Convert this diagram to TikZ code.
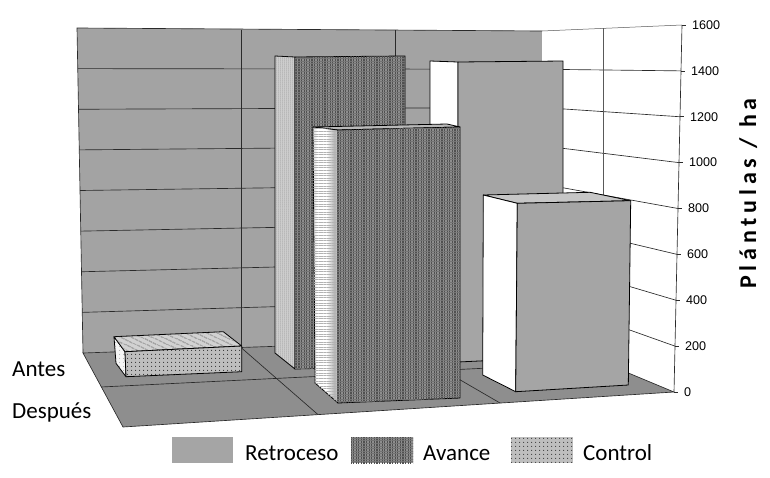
\documentclass[tikz,border=0pt]{standalone}
\usepackage{fontspec}
\setmainfont{Carlito}
\newfontfamily\tickfont{Liberation Sans}
\newfontfamily\titlefont[LetterSpace=20]{Carlito}
\usetikzlibrary{patterns.meta,calc}
\definecolor{wallc}{HTML}{A3A3A3}
\definecolor{floorc}{HTML}{8E8E8E}
\definecolor{retroc}{HTML}{A5A5A5}
\definecolor{retrotop}{HTML}{C6C6C6}
\definecolor{gridc}{HTML}{2A2A2A}
\definecolor{avfill}{HTML}{8E8E8E}
\definecolor{avline}{HTML}{505050}
\definecolor{ctfill}{HTML}{BEBEBE}
\pgfdeclarehorizontalshading{avstripes}{100bp}{color(0bp)=(white); color(18bp)=(gray!55); color(33bp)=(white); color(52bp)=(white); color(68bp)=(gray!60); color(84bp)=(white); color(100bp)=(gray!50)}
\tikzset{
  gridline/.style={draw=gridc, line width=0.65pt},
  lightline/.style={draw=gray!70!black, line width=0.5pt},
  barline/.style={draw=black, line width=0.8pt, line join=round},
  avfront/.style={barline, fill=avfill,
     postaction={pattern={Lines[angle=90,distance=2.6pt,line width=1.1pt]}, pattern color=avline},
     postaction={pattern={Lines[angle=0,distance=2.6pt,line width=0.6pt]}, pattern color=avline!80}},
  avleftA/.style={barline, fill=gray!30,
     postaction={pattern={Dots[distance=2pt,radius=0.5pt]}, pattern color=gray!60!black}},
  avleftD/.style={barline, shading=avstripes,
     postaction={pattern={Lines[angle=0,distance=2.6pt,line width=0.5pt]}, pattern color=gray!60}},
  avtop/.style={barline, fill=gray!55},
  ctfront/.style={barline, fill=ctfill,
     postaction={pattern={Dots[distance=4pt,radius=0.65pt]}, pattern color=black!80}},
  ctleft/.style={barline, fill=gray!8,
     postaction={pattern={Dots[distance=4pt,radius=0.45pt]}, pattern color=black!60}},
  cttop/.style={barline, fill=gray!35,
     postaction={pattern={Lines[angle=-25,distance=4pt,line width=0.7pt]}, pattern color=gray!70!black}},
  rtfront/.style={barline, fill=retroc},
  rtleft/.style={barline, fill=white},
  rttop/.style={barline, fill=retrotop},
  lbl/.style={inner sep=0pt, font=\fontsize{23}{27}\selectfont},
  ticklbl/.style={inner sep=0pt, anchor=west, font=\tickfont\fontsize{12.6}{14}\selectfont},
}
\begin{document}
\begin{tikzpicture}[x=1pt,y=-1pt]
\useasboundingbox (0,0) rectangle (770,477);
% key corners
\coordinate (BL0) at (83,353);
\coordinate (BL8) at (77,28);
\coordinate (BR0) at (542,337);
\coordinate (BR8) at (542,31);
\coordinate (AX0) at (674,392);
\coordinate (AX8) at (682,25);
\coordinate (FL) at (123,427);
% walls and floor
\fill[wallc] (BL8) -- (BR8) -- (BR0) -- (BL0) -- cycle;
\fill[white] (BR8) -- (AX8) -- (AX0) -- (BR0) -- cycle;
\fill[floorc] (BL0) -- (BR0) -- (AX0) -- (FL) -- cycle;
% grid
\foreach \j in {1,...,7}
  \draw[gridline] ($(BL0)!\j/8!(BL8)$) -- ($(BR0)!\j/8!(BR8)$) -- ($(AX0)!\j/8!(AX8)$);
\draw[gridline] (BL0) -- (BL8) -- (BR8);
\draw[lightline] (BR8) -- (AX8);
\coordinate (VB1t) at (241,29.6); \coordinate (VB1b) at (241,347.5);
\coordinate (VB2t) at (395,30.2); \coordinate (VB2b) at (395,342.1);
\coordinate (VRt) at (603,28.4);  \coordinate (VRb) at (603,362.4);
\draw[gridline] (VB1t) -- (VB1b);
\draw[gridline] (VB2t) -- (VB2b);
\draw[lightline] (VRt) -- (VRb);
% floor lines
\coordinate (FR1) at (101,387);
\coordinate (FC1) at (318,414.6);
\coordinate (FC2) at (500,403);
\draw[gridline] (BL0) -- (BR0) -- (AX0) -- (FL) -- cycle;
\draw[gridline] (FR1) -- (VRb);
\draw[gridline] (VB1b) -- (FC1);
\draw[gridline] (VB2b) -- (FC2);
% value axis
\draw[gridline] (AX0) -- (AX8);
\foreach \j/\v in {0/0,1/200,2/400,3/600,4/800,5/1000,6/1200,7/1400,8/1600}{
  \coordinate (T\j) at ($(AX0)!\j/8!(AX8)$);
  \draw[gridline] (T\j) -- ++(4,0);
  \node[ticklbl] (tl\j) at ($(T\j)+(10,0)$) {\v};
}
% ---- bars, back row ----
% Control Antes
\path[ctleft]  (114,336.7) -- (125,351.7) -- (126,376.7) -- (116,363.3) -- cycle;
\path[cttop]   (114,336.7) -- (223.3,331.7) -- (241.7,346) -- (125,351.7) -- cycle;
\path[ctfront] (125,351.7) -- (241.7,346) -- (241.7,371.7) -- (126,376.7) -- cycle;
% Avance Antes
\path[avleftA] (275,56) -- (295,57) -- (295,369) -- (275,353) -- cycle;
\path[avfront] (295,57) -- (405,56) -- (405,366) -- (295,369) -- cycle;
% Retroceso Antes
\path[rtleft]  (430,61) -- (458,62) -- (458,362) -- (430,345) -- cycle;
\path[rtfront] (458,62) -- (563,61) -- (563,357) -- (458,362) -- cycle;
% ---- bars, front row ----
% Avance Despues
\path[avtop]   (313,127) -- (447,124) -- (460,127) -- (338,130) -- cycle;
\path[avleftD] (313,127) -- (338,130) -- (338,403) -- (315,383) -- cycle;
\path[avfront] (338,130) -- (460,127) -- (460,398) -- (338,403) -- cycle;
% Retroceso Despues
\path[rttop]   (483.3,195) -- (590,192.3) -- (630.7,200.7) -- (517.3,203.3) -- cycle;
\path[rtleft]  (483.3,195) -- (517.3,203.3) -- (515.7,391.7) -- (482.7,375) -- cycle;
\path[rtfront] (517.3,203.3) -- (630.7,200.7) -- (628.3,385) -- (515.7,391.7) -- cycle;
% depth labels
\node[lbl, anchor=base west] (antes) at (12,376) {Antes};
\node[lbl, anchor=base west] (despues) at (12,418) {Después};
% axis title
\node[inner sep=0pt, anchor=base west, rotate=90, font=\titlefont\bfseries\fontsize{24}{28}\selectfont] (ytitle) at (756,289) {Plántulas / ha};
% legend
\fill[retroc] (171.7,437.3) rectangle (233.3,463.3);
\path[fill=avfill, postaction={pattern={Lines[angle=90,distance=2.6pt,line width=1.1pt]}, pattern color=avline},
      postaction={pattern={Lines[angle=0,distance=2.6pt,line width=0.6pt]}, pattern color=avline!80}]
      (351,437.3) rectangle (413,463.3);
\path[fill=ctfill, postaction={pattern={Dots[distance=4pt,radius=0.65pt]}, pattern color=black!75}]
      (511,437.3) rectangle (573,463.3);
\node[lbl, anchor=base west] (lg1) at (245,460) {Retroceso};
\node[lbl, anchor=base west] (lg2) at (423,460) {Avance};
\node[lbl, anchor=base west] (lg3) at (583,460) {Control};
\end{tikzpicture}
\end{document}
